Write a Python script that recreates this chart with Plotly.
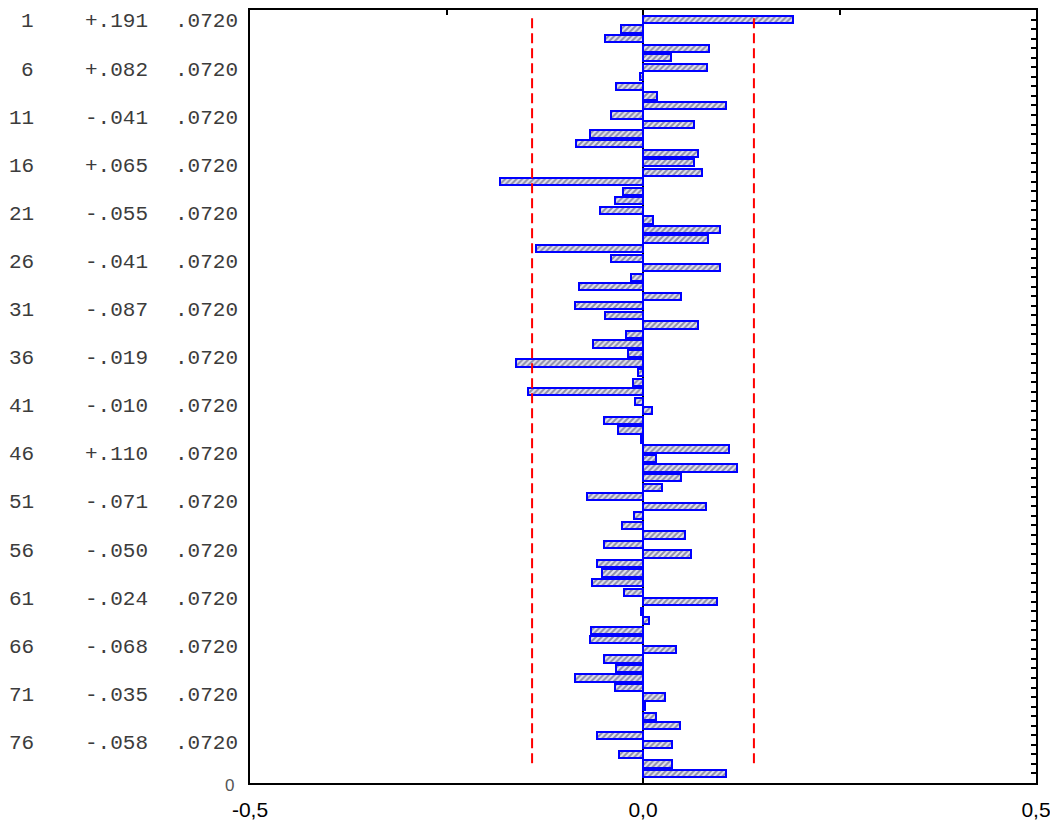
import plotly.graph_objects as go

# ---- data ----
lags = list(range(1, 81))
pacf = [0.191, -0.028, -0.048, 0.084, 0.036, 0.082, -0.004, -0.034, 0.018, 0.106,
        -0.041, 0.065, -0.067, -0.085, 0.070, 0.065, 0.075, -0.182, -0.025, -0.036,
        -0.055, 0.013, 0.098, 0.083, -0.136, -0.041, 0.098, -0.015, -0.081, 0.048,
        -0.087, -0.048, 0.070, -0.021, -0.064, -0.019, -0.161, -0.007, -0.013, -0.146,
        -0.010, 0.012, -0.049, -0.032, -0.002, 0.110, 0.016, 0.120, 0.048, 0.024,
        -0.071, 0.080, -0.011, -0.027, 0.054, -0.050, 0.061, -0.059, -0.052, -0.065,
        -0.024, 0.094, -0.003, 0.008, -0.066, -0.068, 0.042, -0.049, -0.034, -0.086,
        -0.035, 0.028, 0.002, 0.017, 0.047, -0.058, 0.037, -0.031, 0.037, 0.105]
std_err = 0.0720
conf_limit = 1.96 * std_err
labeled_lags = lags[::5]
x_tickvals = [-0.5, 0.0, 0.5]
x_ticktext = ["-0,5", "0,0", "0,5"]
y_origin_label = "0"

MONO = "Liberation Mono, Courier New, monospace"
SANS = "Liberation Sans, Arial, sans-serif"

# page body has an 8px default margin; figure is sized to fit the window
LEFT = 242

fig = go.Figure()

fig.add_trace(go.Bar(
    x=pacf, y=lags, orientation="h", width=0.76,
    marker=dict(color="#e0e0ea",
                line=dict(color="#0000ff", width=2),
                pattern=dict(shape="/", fgcolor="#343464", bgcolor="#e4e4ee",
                             size=4, solidity=0.5)),
    showlegend=False, hoverinfo="x+y",
))

for cl in (-conf_limit, conf_limit):
    fig.add_trace(go.Scatter(
        x=[cl, cl], y=[0.86, 79.13], mode="lines",
        line=dict(color="#ff0000", width=2, dash="10px,5px"),
        xaxis="x2", yaxis="y2", showlegend=False, hoverinfo="skip",
    ))

def fmt(v):
    s = f"{v:+.3f}"
    return s.replace("0.", ".", 1)

annotations = []
for lag in labeled_lags:
    v = pacf[lag - 1]
    ypos = lag + 0.25 + (lag - 1) * 0.008
    for text, right_px in ((str(lag), 35), (fmt(v), 149), (f"{std_err:.4f}".lstrip("0"), 239)):
        annotations.append(dict(
            text=text, xref="paper", x=0, xanchor="right", xshift=-(250 - right_px) + 1,
            yref="y", y=ypos, yanchor="middle", showarrow=False,
            font=dict(family=MONO, size=21, color="#3c3c3c"),
        ))
annotations.append(dict(
    text=y_origin_label, xref="paper", x=0, xanchor="right", xshift=-(250 - 235) + 1,
    yref="paper", y=0, yanchor="middle", yshift=-2, showarrow=False,
    font=dict(family=SANS, size=17, color="#555555"),
))

fig.update_layout(
    width=1050, height=815,
    margin=dict(l=LEFT, r=22, t=2, b=40),
    paper_bgcolor="white", plot_bgcolor="white",
    showlegend=False,
    bargap=0,
    xaxis=dict(range=[-0.5, 0.5], tickvals=x_tickvals, ticktext=x_ticktext,
               ticks="inside", ticklen=4, tickwidth=1.5, tickcolor="black",
               ticklabelstandoff=7,
               showline=True, linecolor="black", linewidth=2,
               zeroline=True, zerolinecolor="black", zerolinewidth=1.5,
               showgrid=False, tickfont=dict(family=SANS, size=21, color="black")),
    xaxis2=dict(range=[-0.5, 0.5], overlaying="x", side="top",
                tickvals=[-0.25, 0.0, 0.25], ticks="inside", ticklen=5, tickwidth=1.5,
                tickcolor="black", showticklabels=False,
                showline=True, linecolor="black", linewidth=2,
                zeroline=False, showgrid=False),
    yaxis=dict(range=[81, 0], showline=True, linecolor="black", linewidth=2,
               ticks="", showticklabels=False, showgrid=False, zeroline=False),
    yaxis2=dict(range=[81, 0], overlaying="y", side="right",
                tickvals=list(range(1, 82)), ticks="inside", ticklen=5, tickwidth=1.5,
                tickcolor="black", showticklabels=False,
                showline=True, linecolor="black", linewidth=2,
                showgrid=False, zeroline=False),
    annotations=annotations,
)

fig.write_html("out.html")
